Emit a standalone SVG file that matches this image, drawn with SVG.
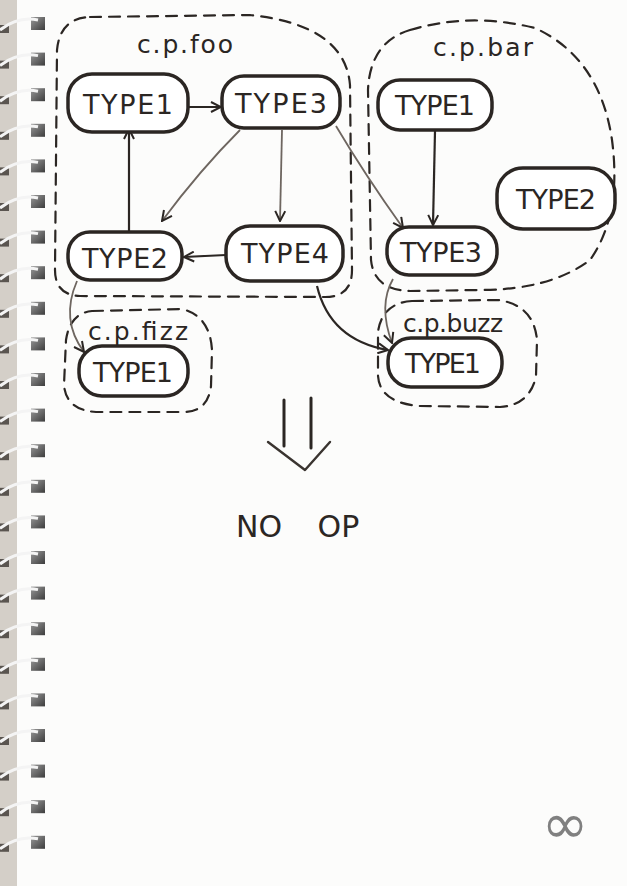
<svg xmlns="http://www.w3.org/2000/svg" width="627" height="886" viewBox="0 0 627 886">
<style>
.node{fill:#fff;stroke:#2b2623;stroke-width:3.5}
.cont{fill:none;stroke:#2b2623;stroke-width:2.2;stroke-dasharray:11 8;stroke-linecap:round}
.lbl{font-family:"DejaVu Sans",sans-serif;font-size:25px;fill:#2b2623}
.t{font-family:"DejaVu Sans",sans-serif;font-size:27px;fill:#2b2623;text-anchor:middle}
.e{fill:none;stroke:#2b2623;stroke-width:2.2}
.g{fill:none;stroke:#6e6660;stroke-width:1.8}
.hole{fill:url(#hg)}
.wire{fill:none;stroke:#f4f4f4;stroke-width:3}
</style>
<defs>
<marker id="ah" viewBox="0 0 12 12" refX="11" refY="6" markerWidth="12" markerHeight="12" markerUnits="userSpaceOnUse" orient="auto">
<path d="M1,1 L11,6 L1,11" fill="none" stroke="#2b2623" stroke-width="2"/>
</marker>
<linearGradient id="hg" x1="0" x2="1" y1="0" y2="1">
<stop offset="0" stop-color="#9a9a9a"/><stop offset="1" stop-color="#3c3c3c"/>
</linearGradient>
</defs>
<rect width="627" height="886" fill="#fcfcfb"/>
<rect x="0" y="0" width="17" height="886" fill="#d4cfc8"/>
<g id="binding">
<g id="r0" transform="translate(0,23)"><rect x="31" y="-6" width="14" height="13" class="hole"/><rect x="0" y="2" width="9" height="8" fill="#5a5550"/><path d="M0,7 Q18,-7 38,-3" class="wire"/></g>
<use href="#r0" y="35.6"/><use href="#r0" y="71.2"/><use href="#r0" y="106.8"/><use href="#r0" y="142.4"/><use href="#r0" y="178"/><use href="#r0" y="213.6"/><use href="#r0" y="249.2"/><use href="#r0" y="284.8"/><use href="#r0" y="320.4"/><use href="#r0" y="356"/><use href="#r0" y="391.6"/><use href="#r0" y="427.2"/><use href="#r0" y="462.8"/><use href="#r0" y="498.4"/><use href="#r0" y="534"/><use href="#r0" y="569.6"/><use href="#r0" y="605.2"/><use href="#r0" y="640.8"/><use href="#r0" y="676.4"/><use href="#r0" y="712"/><use href="#r0" y="747.6"/><use href="#r0" y="783.2"/><use href="#r0" y="818.8"/>
</g>
<g id="containers">
<g id="foo"><path class="cont" d="M90 17 L250 15 Q345 25 350 85 L352 270 Q352 297 325 297 L80 296 Q55 295 55 270 L57 50 Q60 18 90 17 Z"/><text class="lbl" x="137" y="53" textLength="96">c.p.foo</text></g>
<g id="bar"><path class="cont" d="M410 30 Q470 12 535 28 Q600 58 612 140 Q622 215 590 260 Q550 290 480 290 L410 291 Q374 290 371 260 L368 90 Q370 42 410 30 Z"/><text class="lbl" x="433" y="56" textLength="100">c.p.bar</text></g>
<g id="fizz"><path class="cont" d="M92 311 L182 309 Q210 316 212 350 L211 386 Q208 412 183 412 L96 412 Q66 410 64 385 L66 340 Q70 313 92 311 Z"/><text class="lbl" x="88" y="340" font-size="23" textLength="100">c.p.fizz</text></g>
<g id="buzz"><path class="cont" d="M412 301 L498 300 Q534 305 537 340 L536 376 Q530 405 500 407 L420 406 Q380 403 378 376 L378 332 Q382 303 412 301 Z"/><text class="lbl" x="403" y="332" font-size="23" textLength="100">c.p.buzz</text></g>
</g>
<g id="connectors">
<path class="e" d="M188 107 L221 107" marker-end="url(#ah)"/>
<path class="e" d="M129 231 L129 129" marker-end="url(#ah)"/>
<path class="g" d="M240 130 Q200 170 162 221" marker-end="url(#ah)"/>
<path class="g" d="M282 130 L280 221" marker-end="url(#ah)"/>
<path class="e" d="M226 255 L184 257" marker-end="url(#ah)"/>
<path class="g" d="M336 126 Q365 175 403 228" marker-end="url(#ah)"/>
<path class="e" d="M435 131 L433 225" marker-end="url(#ah)"/>
<path class="g" d="M77 281 Q60 320 84 352" marker-end="url(#ah)"/>
<path class="e" d="M317 286 Q330 340 388 350" marker-end="url(#ah)"/>
<path class="g" d="M393 279 Q378 305 392 343" marker-end="url(#ah)"/>
</g>
<g id="foo_type1"><rect class="node" x="68" y="74" width="120" height="58" rx="24"/><text class="t" x="128" y="114" textLength="90">TYPE1</text></g>
<g id="foo_type3"><rect class="node" x="222" y="76" width="118" height="52" rx="22"/><text class="t" x="281" y="113" textLength="92">TYPE3</text></g>
<g id="foo_type2"><rect class="node" x="68" y="232" width="114" height="48" rx="22"/><text class="t" x="125" y="268" textLength="86">TYPE2</text></g>
<g id="foo_type4"><rect class="node" x="226" y="226" width="117" height="55" rx="24"/><text class="t" x="285" y="263" textLength="88">TYPE4</text></g>
<g id="bar_type1"><rect class="node" x="378" y="80" width="114" height="50" rx="22"/><text class="t" x="435" y="115" textLength="80">TYPE1</text></g>
<g id="bar_type2"><rect class="node" x="497" y="168" width="118" height="61" rx="26"/><text class="t" x="556" y="209" textLength="80">TYPE2</text></g>
<g id="bar_type3"><rect class="node" x="387" y="227" width="110" height="48" rx="22"/><text class="t" x="441" y="262" textLength="82">TYPE3</text></g>
<g id="fizz_type1"><rect class="node" x="79" y="346" width="109" height="50" rx="23"/><text class="t" x="133" y="382" textLength="80">TYPE1</text></g>
<g id="buzz_type1"><rect class="node" x="388" y="338" width="114" height="49" rx="23"/><text class="t" x="443" y="373" textLength="76">TYPE1</text></g>
<g id="result">
<path d="M284 400 L284 446 M311 398 L311 448" fill="none" stroke="#2b2623" stroke-width="3" stroke-linecap="round"/>
<path d="M268 442 L305 470 L330 442" fill="none" stroke="#3a3430" stroke-width="2.4" stroke-linecap="round" stroke-linejoin="round"/>
<text x="236" y="537" font-family="DejaVu Sans, sans-serif" font-size="30" fill="#2b2623" word-spacing="26">NO OP</text>
</g>
<text x="565" y="843" font-family="DejaVu Sans, sans-serif" font-size="56" fill="#808080" text-anchor="middle">∞</text>
</svg>
